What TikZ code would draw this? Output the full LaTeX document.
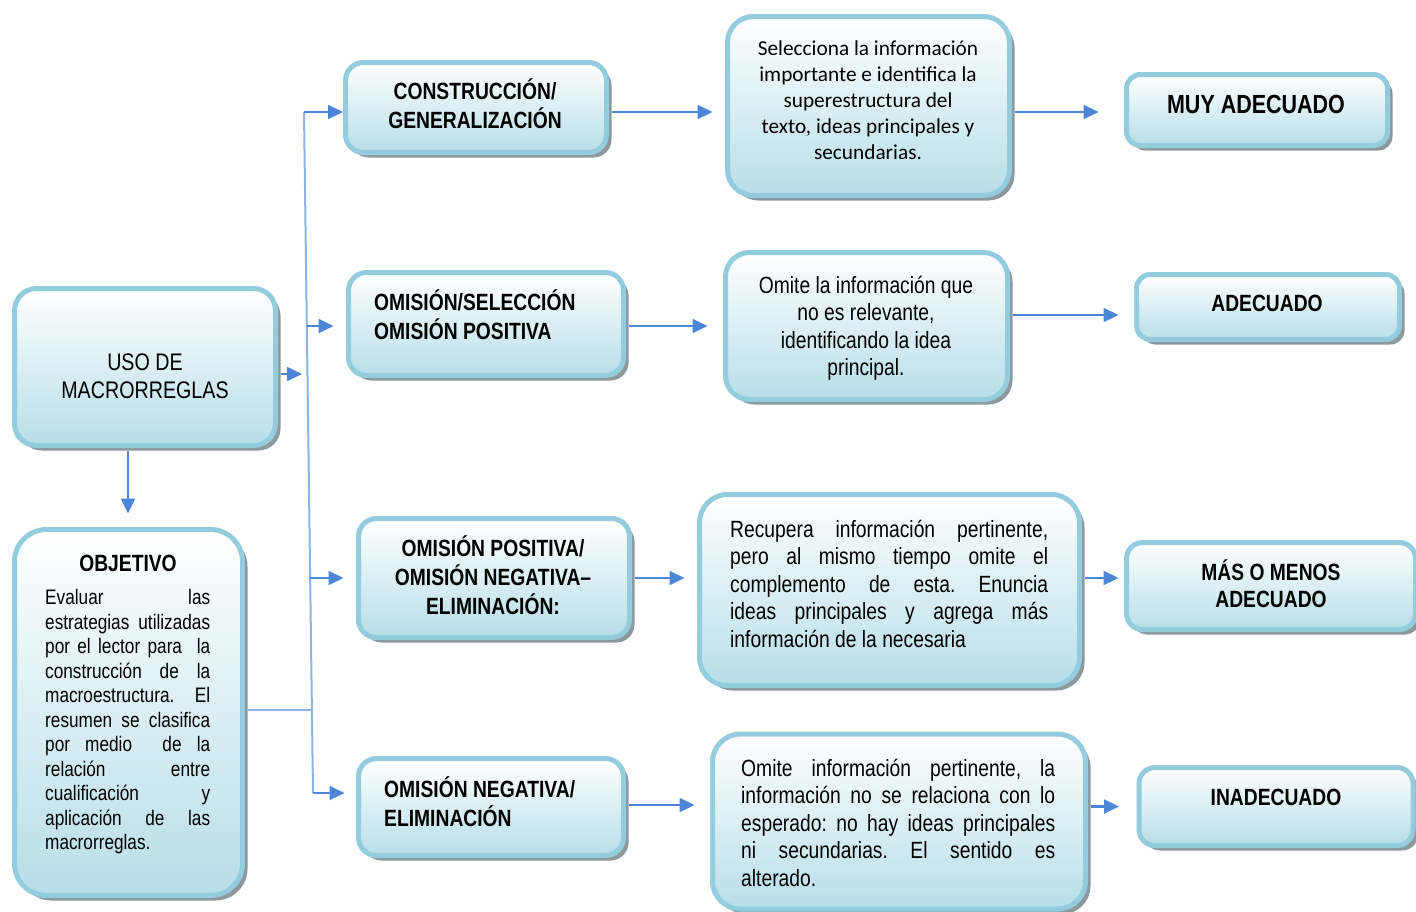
\documentclass[tikz,border=0pt]{standalone}
\usepackage{fontspec}
\setmainfont{Liberation Sans}
\newfontfamily\narrow{Liberation Sans}[FakeStretch=0.82]
\newfontfamily\calfont{Carlito}
\usetikzlibrary{shadows,arrows.meta,calc}
\definecolor{bd}{HTML}{93CDDD}
\definecolor{bt}{HTML}{B7DEE8}
\definecolor{arc}{HTML}{4D86D6}
\definecolor{busc}{HTML}{8DB4E2}
\definecolor{shc}{HTML}{8C989B}
\newlength\jw
\newcommand\jl[1]{\makebox[\jw][s]{#1}}
\frenchspacing
\tikzset{
  box/.style={rectangle, rounded corners=#1, draw=bd, line width=5pt,
    top color=white, bottom color=bt, inner sep=0pt,
    drop shadow={shadow xshift=5pt, shadow yshift=-5pt, fill=shc, opacity=1}},
  box/.default=18pt,
  txt/.style={inner sep=0pt, font=\narrow},
  arr/.style={draw=arc, line width=2.2pt, -{Triangle[length=15pt,width=14pt]}},
  busl/.style={draw=busc, line width=2pt},
}
\begin{document}
\begin{tikzpicture}[x=1pt,y=-1pt]
\useasboundingbox (0,0) rectangle (1416,911);
% boxes
\node[box=22pt, minimum width=261pt, minimum height=157pt] (uso) at (145,367) {};
\node[box=32pt, minimum width=228pt, minimum height=366pt] (obj) at (128.5,712.5) {};
\node[box, minimum width=261pt, minimum height=90pt] (c1) at (476,107.5) {};
\node[box, minimum width=275pt, minimum height=103pt] (c2) at (486,324) {};
\node[box, minimum width=271pt, minimum height=119pt] (c3) at (494,578) {};
\node[box, minimum width=265pt, minimum height=97pt] (c4) at (491,807) {};
\node[box=26pt, minimum width=282pt, minimum height=179pt] (d1) at (868.5,106) {};
\node[box=24pt, minimum width=282pt, minimum height=147pt] (d2) at (866.5,326) {};
\node[box=28pt, minimum width=380pt, minimum height=191pt] (d3) at (889.5,590) {};
\node[box=28pt, minimum width=373pt, minimum height=175pt] (d4) at (899,821.5) {};
\node[box=14pt, minimum width=261pt, minimum height=71pt] (e1) at (1257,110) {};
\node[box=14pt, minimum width=263pt, minimum height=65pt] (e2) at (1268,307) {};
\node[box=16pt, minimum width=289pt, minimum height=87pt] (e3) at (1271,586) {};
\node[box=16pt, minimum width=274pt, minimum height=78pt] (e4) at (1276,806.5) {};
% texts
\node[txt, anchor=base] (tuso) at (145,370.6) {\fontsize{24}{28}\selectfont
  \begin{tabular}[t]{@{}c@{}}USO DE\\MACRORREGLAS\end{tabular}};
\node[txt, anchor=base] (tobj) at (128,571.5) {\fontsize{23.5}{28}\selectfont\bfseries OBJETIVO};
\node[txt, anchor=base west] (tobjb) at (45,604.5) {\fontsize{21}{24.5}\selectfont\setlength\jw{165pt}%
  \begin{tabular}[t]{@{}l@{}}
  \jl{Evaluar las}\\
  \jl{estrategias utilizadas}\\
  \jl{por el lector para \ la}\\
  \jl{construcción de la}\\
  \jl{macroestructura. El}\\
  \jl{resumen se clasifica}\\
  \jl{por medio \ de la}\\
  \jl{relación entre}\\
  \jl{cualificación y}\\
  \jl{aplicación de las}\\
  macrorreglas.
  \end{tabular}};
\node[txt, anchor=base] (tc1) at (475,99.4) {\fontsize{23.5}{28}\selectfont\bfseries
  \begin{tabular}[t]{@{}c@{}}CONSTRUCCIÓN/\\GENERALIZACIÓN\end{tabular}};
\node[txt, anchor=base west] (tc2) at (374,310.4) {\fontsize{23.5}{28}\selectfont\bfseries
  \begin{tabular}[t]{@{}l@{}}OMISIÓN/SELECCIÓN\\OMISIÓN POSITIVA\end{tabular}};
\node[txt, anchor=base] (tc3) at (493,556.4) {\fontsize{23.5}{28}\selectfont\bfseries
  \begin{tabular}[t]{@{}c@{}}OMISIÓN POSITIVA/\\OMISIÓN NEGATIVA–\\ELIMINACIÓN:\end{tabular}};
\node[txt, anchor=base west] (tc4) at (384,797.4) {\fontsize{23.5}{28}\selectfont\bfseries
  \begin{tabular}[t]{@{}l@{}}OMISIÓN NEGATIVA/\\ELIMINACIÓN\end{tabular}};
\node[inner sep=0pt, anchor=base] (td1) at (868,55.5) {\calfont\fontsize{21.3}{26}\selectfont
  \begin{tabular}[t]{@{}c@{}}Selecciona la información\\importante e identifica la\\superestructura del\\texto, ideas principales y\\secundarias.\end{tabular}};
\node[txt, anchor=base] (td2) at (866,293) {\fontsize{23.5}{27.5}\selectfont
  \begin{tabular}[t]{@{}c@{}}Omite la información que\\no es relevante,\\identificando la idea\\principal.\end{tabular}};
\node[txt, anchor=base west] (td3) at (730,537) {\fontsize{23.5}{27.5}\selectfont\setlength\jw{318pt}%
  \begin{tabular}[t]{@{}l@{}}
  \jl{Recupera información pertinente,}\\
  \jl{pero al mismo tiempo omite el}\\
  \jl{complemento de esta. Enuncia}\\
  \jl{ideas principales y agrega más}\\
  información de la necesaria
  \end{tabular}};
\node[txt, anchor=base west] (td4) at (741,776) {\fontsize{23.5}{27.5}\selectfont\setlength\jw{314pt}%
  \begin{tabular}[t]{@{}l@{}}
  \jl{Omite información pertinente, la}\\
  \jl{información no se relaciona con lo}\\
  \jl{esperado: no hay ideas principales}\\
  \jl{ni secundarias. El sentido es}\\
  alterado.
  \end{tabular}};
\node[txt, anchor=base] (te1) at (1256,113.4) {\fontsize{26.2}{30}\selectfont\bfseries MUY ADECUADO};
\node[txt, anchor=base] (te2) at (1267,311.4) {\fontsize{23.5}{28}\selectfont\bfseries ADECUADO};
\node[txt, anchor=base] (te3) at (1271,580.4) {\fontsize{23.5}{27}\selectfont\bfseries
  \begin{tabular}[t]{@{}c@{}}MÁS O MENOS\\ADECUADO\end{tabular}};
\node[txt, anchor=base] (te4) at (1276,805.4) {\fontsize{23.5}{28}\selectfont\bfseries INADECUADO};
% bus
\coordinate (bt) at (304,112);
\coordinate (bb) at (313,793);
\coordinate (b2) at (306.8,326);
\coordinate (b3) at (310.2,578);
\coordinate (bo) at (311.9,710);
\draw[busl] (bt) -- (bb);
\draw[busl, shorten <=2.5pt] (obj.east |- bo) -- (bo);
\draw[arr] (bt) -- (bt -| c1.west);
\draw[arr, shorten >=12.5pt] (b2) -- (b2 -| c2.west);
\draw[arr, shorten >=12.5pt] (b3) -- (b3 -| c3.west);
\draw[arr, shorten >=11.5pt] (bb) -- (bb -| c4.west);
\coordinate (ua) at ($(uso.east)+(2.5,7)$);
\draw[arr, shorten >=2pt] (ua) -- (ua -| bt);
\coordinate (us) at ($(uso.south)+(-17,2.5)$);
\draw[arr, shorten >=13.5pt] (us) -- (us |- obj.north);
% horizontal connectors
\coordinate (p1) at ($(c1.east)+(2.5,4.5)$);
\draw[arr, shorten >=12.5pt] (p1) -- (p1 -| d1.west);
\coordinate (q1) at ($(d1.east)+(2.5,6)$);
\draw[arr, shorten >=25.5pt] (q1) -- (q1 -| e1.west);
\coordinate (p2) at ($(c2.east)+(2.5,2)$);
\draw[arr, shorten >=15.5pt] (p2) -- (p2 -| d2.west);
\coordinate (q2) at ($(d2.east)+(2.5,-11)$);
\draw[arr, shorten >=15.5pt] (q2) -- (q2 -| e2.west);
\coordinate (p3) at ($(c3.east)+(2.5,0)$);
\draw[arr, shorten >=12.5pt] (p3) -- (p3 -| d3.west);
\coordinate (q3) at ($(d3.east)+(2.5,-12)$);
\draw[arr, shorten >=5.5pt] (q3) -- (q3 -| e3.west);
\coordinate (p4) at ($(c4.east)+(2.5,-2)$);
\draw[arr, shorten >=15.5pt] (p4) -- (p4 -| d4.west);
\coordinate (q4) at ($(d4.east)+(2.5,-15)$);
\draw[arr, shorten >=17.5pt] (q4) -- (q4 -| e4.west);
\end{tikzpicture}
\end{document}
